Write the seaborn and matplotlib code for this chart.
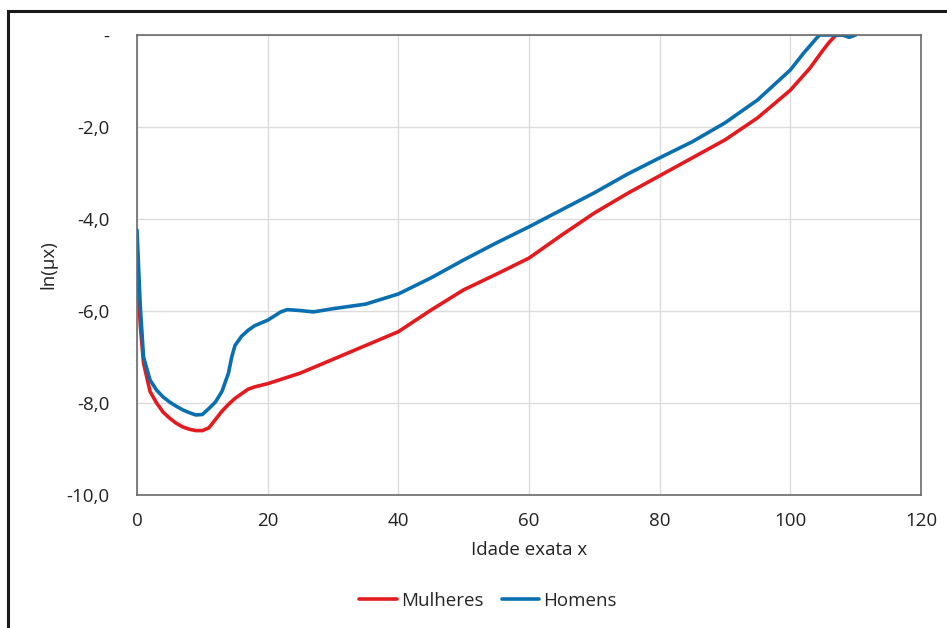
import matplotlib
matplotlib.use("Agg")
import matplotlib.pyplot as plt
import seaborn as sns
import pandas as pd
from matplotlib.patches import Rectangle
from matplotlib.ticker import FuncFormatter

# ---- data ----
ages_homens = [0, 0.5, 1, 2, 3, 4, 5, 6, 7, 8, 9, 10, 11, 12, 13, 14, 14.5, 15, 16, 17,
               18, 20, 22, 23, 25, 27, 30, 35, 40, 45, 50, 55, 60, 65, 70, 75, 80, 85,
               90, 95, 100, 102, 104, 104.5, 106, 108, 109, 110]
ln_mu_homens = [-4.24, -5.9, -7.0, -7.5, -7.72, -7.87, -7.98, -8.07, -8.15, -8.21, -8.26,
                -8.25, -8.12, -7.98, -7.75, -7.35, -7.0, -6.75, -6.55, -6.42, -6.32, -6.2,
                -6.02, -5.97, -5.99, -6.02, -5.95, -5.85, -5.63, -5.28, -4.89, -4.52, -4.17,
                -3.8, -3.43, -3.03, -2.67, -2.32, -1.91, -1.41, -0.76, -0.4, -0.07, 0.0,
                0.0, 0.0, -0.05, 0.0]

ages_mulheres = [0, 0.5, 1, 2, 3, 4, 5, 6, 7, 8, 9, 10, 11, 12, 13, 14, 15, 16, 17, 18,
                 20, 25, 30, 35, 40, 45, 50, 55, 60, 65, 70, 75, 80, 85, 90, 95, 100, 103,
                 105, 106, 107, 108.5]
ln_mu_mulheres = [-5.0, -6.3, -7.13, -7.75, -8.0, -8.2, -8.33, -8.44, -8.52, -8.57, -8.6,
                  -8.6, -8.54, -8.36, -8.18, -8.03, -7.9, -7.8, -7.7, -7.65, -7.58, -7.35,
                  -7.05, -6.75, -6.45, -5.98, -5.54, -5.2, -4.85, -4.35, -3.87, -3.45,
                  -3.06, -2.67, -2.28, -1.8, -1.2, -0.72, -0.33, -0.15, 0.0, 0.0]

series_names = ["Mulheres", "Homens"]
series_colors = ["#e31b1f", "#0a6fb0"]
x_ticks = [0, 20, 40, 60, 80, 100, 120]
y_ticks = [0, -2, -4, -6, -8, -10]

df = pd.concat([
    pd.DataFrame({"idade": ages_mulheres, "ln": ln_mu_mulheres, "sexo": "Mulheres"}),
    pd.DataFrame({"idade": ages_homens, "ln": ln_mu_homens, "sexo": "Homens"}),
], ignore_index=True)

sns.set_theme(style="white")
plt.rcParams["font.family"] = ["Open Sans", "DejaVu Sans"]
FS = 13.5

fig = plt.figure(figsize=(9.47, 6.28), dpi=100)
ax = fig.add_axes([137/947, 1 - 495/628, (921 - 137)/947, (495 - 35)/628])

sns.lineplot(data=df, x="idade", y="ln", hue="sexo", hue_order=series_names,
             palette=series_colors, sort=False, estimator=None, linewidth=2.6, ax=ax)
for ln in ax.lines:
    ln.set_solid_joinstyle("round")
    ln.set_solid_capstyle("round")

ax.set_xlim(0, 120)
ax.set_ylim(-10, 0)
ax.set_xticks(x_ticks)
ax.set_yticks(y_ticks)
ax.yaxis.set_major_formatter(FuncFormatter(
    lambda v, p: "-" if abs(v) < 1e-9 else f"{v:.1f}".replace(".", ",")))
ax.grid(True, color="#dcdcdc", linewidth=1.0)
ax.set_axisbelow(True)
for s in ax.spines.values():
    s.set_color("#6a6a6a")
    s.set_linewidth(1.2)
ax.tick_params(axis="both", length=0, labelsize=FS, colors="#222222")
ax.tick_params(axis="y", pad=20)
ax.tick_params(axis="x", pad=12)

ax.set_xlabel("Idade exata x", fontsize=FS, color="#222222", labelpad=8)
ax.set_ylabel("ln(µx)", fontsize=FS, color="#222222", labelpad=6)

ax.legend(loc="center", bbox_to_anchor=(488/947, 1 - 601/628), bbox_transform=fig.transFigure,
          ncol=2, frameon=False, fontsize=FS, handlelength=2.0, handletextpad=0.2,
          columnspacing=1.0)

fig.patches.append(Rectangle((8/947, -0.1), 1.2, 1.1 - 11/628 + 0.0,
                             transform=fig.transFigure, fill=False,
                             edgecolor="#1a1a1a", linewidth=2.2))

fig.savefig("out.png", dpi=100, facecolor="white")
